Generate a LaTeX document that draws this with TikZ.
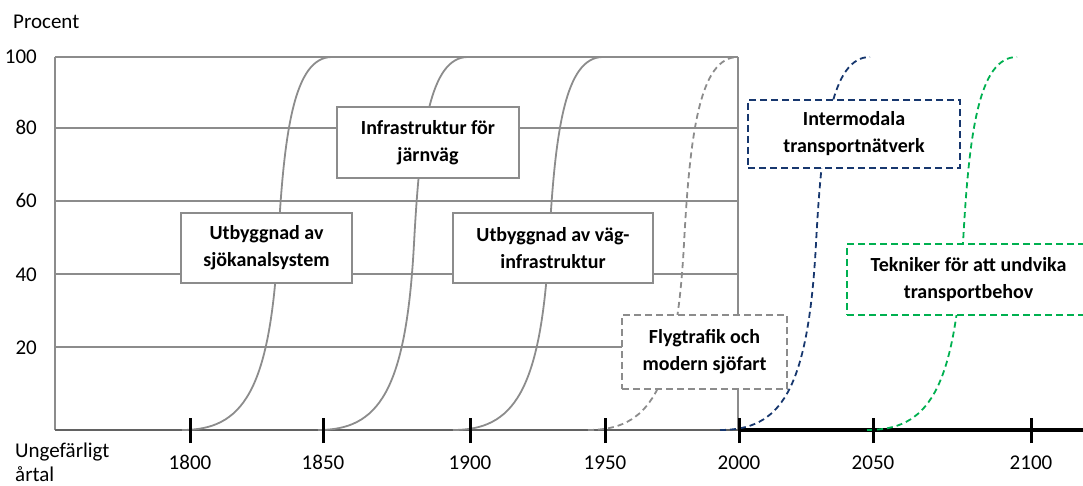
\documentclass[tikz,border=0pt]{standalone}
\usepackage{fontspec}
\setmainfont{Carlito}
\usetikzlibrary{positioning}

\definecolor{linegray}{RGB}{140,140,140}
\definecolor{navy}{RGB}{23,55,110}
\definecolor{leafgreen}{RGB}{0,176,80}

\tikzstyle{block} = [rectangle, draw=linegray, line width=1.8pt, fill=white, align=center, inner sep=0pt, font=\fontsize{20}{27}\selectfont\bfseries]
\tikzstyle{dashblock} = [block, dash pattern=on 7pt off 4pt]
\tikzstyle{grid} = [linegray, line width=1.4pt]
\tikzstyle{lbl} = [font=\fontsize{21}{24}\selectfont, inner sep=0pt]
\tikzstyle{tick} = [black, line width=3pt]

% one S-curve, starting at x = #2 on the axis
\newcommand{\adoption}[2]{%
  \begin{scope}[shift={(#2,55)}, y=3.73pt]
    \draw[#1] (0,0) .. controls (60,0) and (88,10) .. (96,50)
      .. controls (102,80) and (112,100) .. (150,100);
  \end{scope}}

\begin{document}
\begin{tikzpicture}[x=1pt, y=1pt]
\useasboundingbox (0,0) rectangle (1083,485);
\clip (0,0) rectangle (1083,485);

% grid
\foreach \yy in {138,211,284,357,428}
  \draw[grid] (55,\yy) -- (738,\yy);
\draw[grid] (55,55) -- (55,428);
\draw[grid] (738,55) -- (738,428);

% axis
\draw[linegray!70!black, line width=1.4pt] (55,55) -- (738,55);
\draw[black, line width=3.2pt] (738,55) -- (1083,55);

% curves
\adoption{linegray, line width=1.8pt}{182}
\adoption{linegray, line width=1.8pt}{318}
\adoption{linegray, line width=1.8pt}{453}
\adoption{linegray, line width=1.8pt, dash pattern=on 6pt off 4pt}{588}
\adoption{navy, line width=1.8pt, dash pattern=on 6pt off 4pt}{720}
\adoption{leafgreen, line width=1.8pt, dash pattern=on 6pt off 4pt}{867}

% boxes
\node [block, minimum width=171pt, minimum height=70pt] (sjo) at (266.5,237) {Utbyggnad av\\sjökanalsystem};
\node [block, minimum width=182pt, minimum height=71pt] (jarn) at (428,342.5) {Infrastruktur för\\järnväg};
\node [block, minimum width=200pt, minimum height=70pt] (vag) at (553,237) {Utbyggnad av väg-\\infrastruktur};
\node [dashblock, minimum width=165pt, minimum height=74pt] (flyg) at (704.5,133) {Flygtrafik och\\modern sjöfart};
\node [dashblock, draw=navy, minimum width=212pt, minimum height=68pt] (inter) at (854,351) {Intermodala\\transportnätverk};
\node [dashblock, draw=leafgreen, minimum width=243pt, minimum height=71pt] (tek) at (968.5,205.5) {Tekniker för att undvika\\transportbehov};

% ticks and years
\foreach \xx/\yr in {190/1800,323/1850,470/1900,605/1950,739/2000,873/2050,1031/2100} {
  \draw[tick] (\xx,42) -- (\xx,67);
  \node[lbl, anchor=base] (y\yr) at (\xx,16) {\yr};
}

% y labels
\foreach \yy/\pc in {138/20,211/40,284/60,357/80,428/100}
  \node[lbl, anchor=base east] (p\pc) at (37,\yy-7) {\pc};

\node[lbl, anchor=base west] (procent) at (13,456) {Procent};
\node[lbl, anchor=base west] (ungef) at (15,28) {Ungefärligt};
\node[lbl, anchor=base west] (artal) at (15,4) {årtal};
\end{tikzpicture}
\end{document}
